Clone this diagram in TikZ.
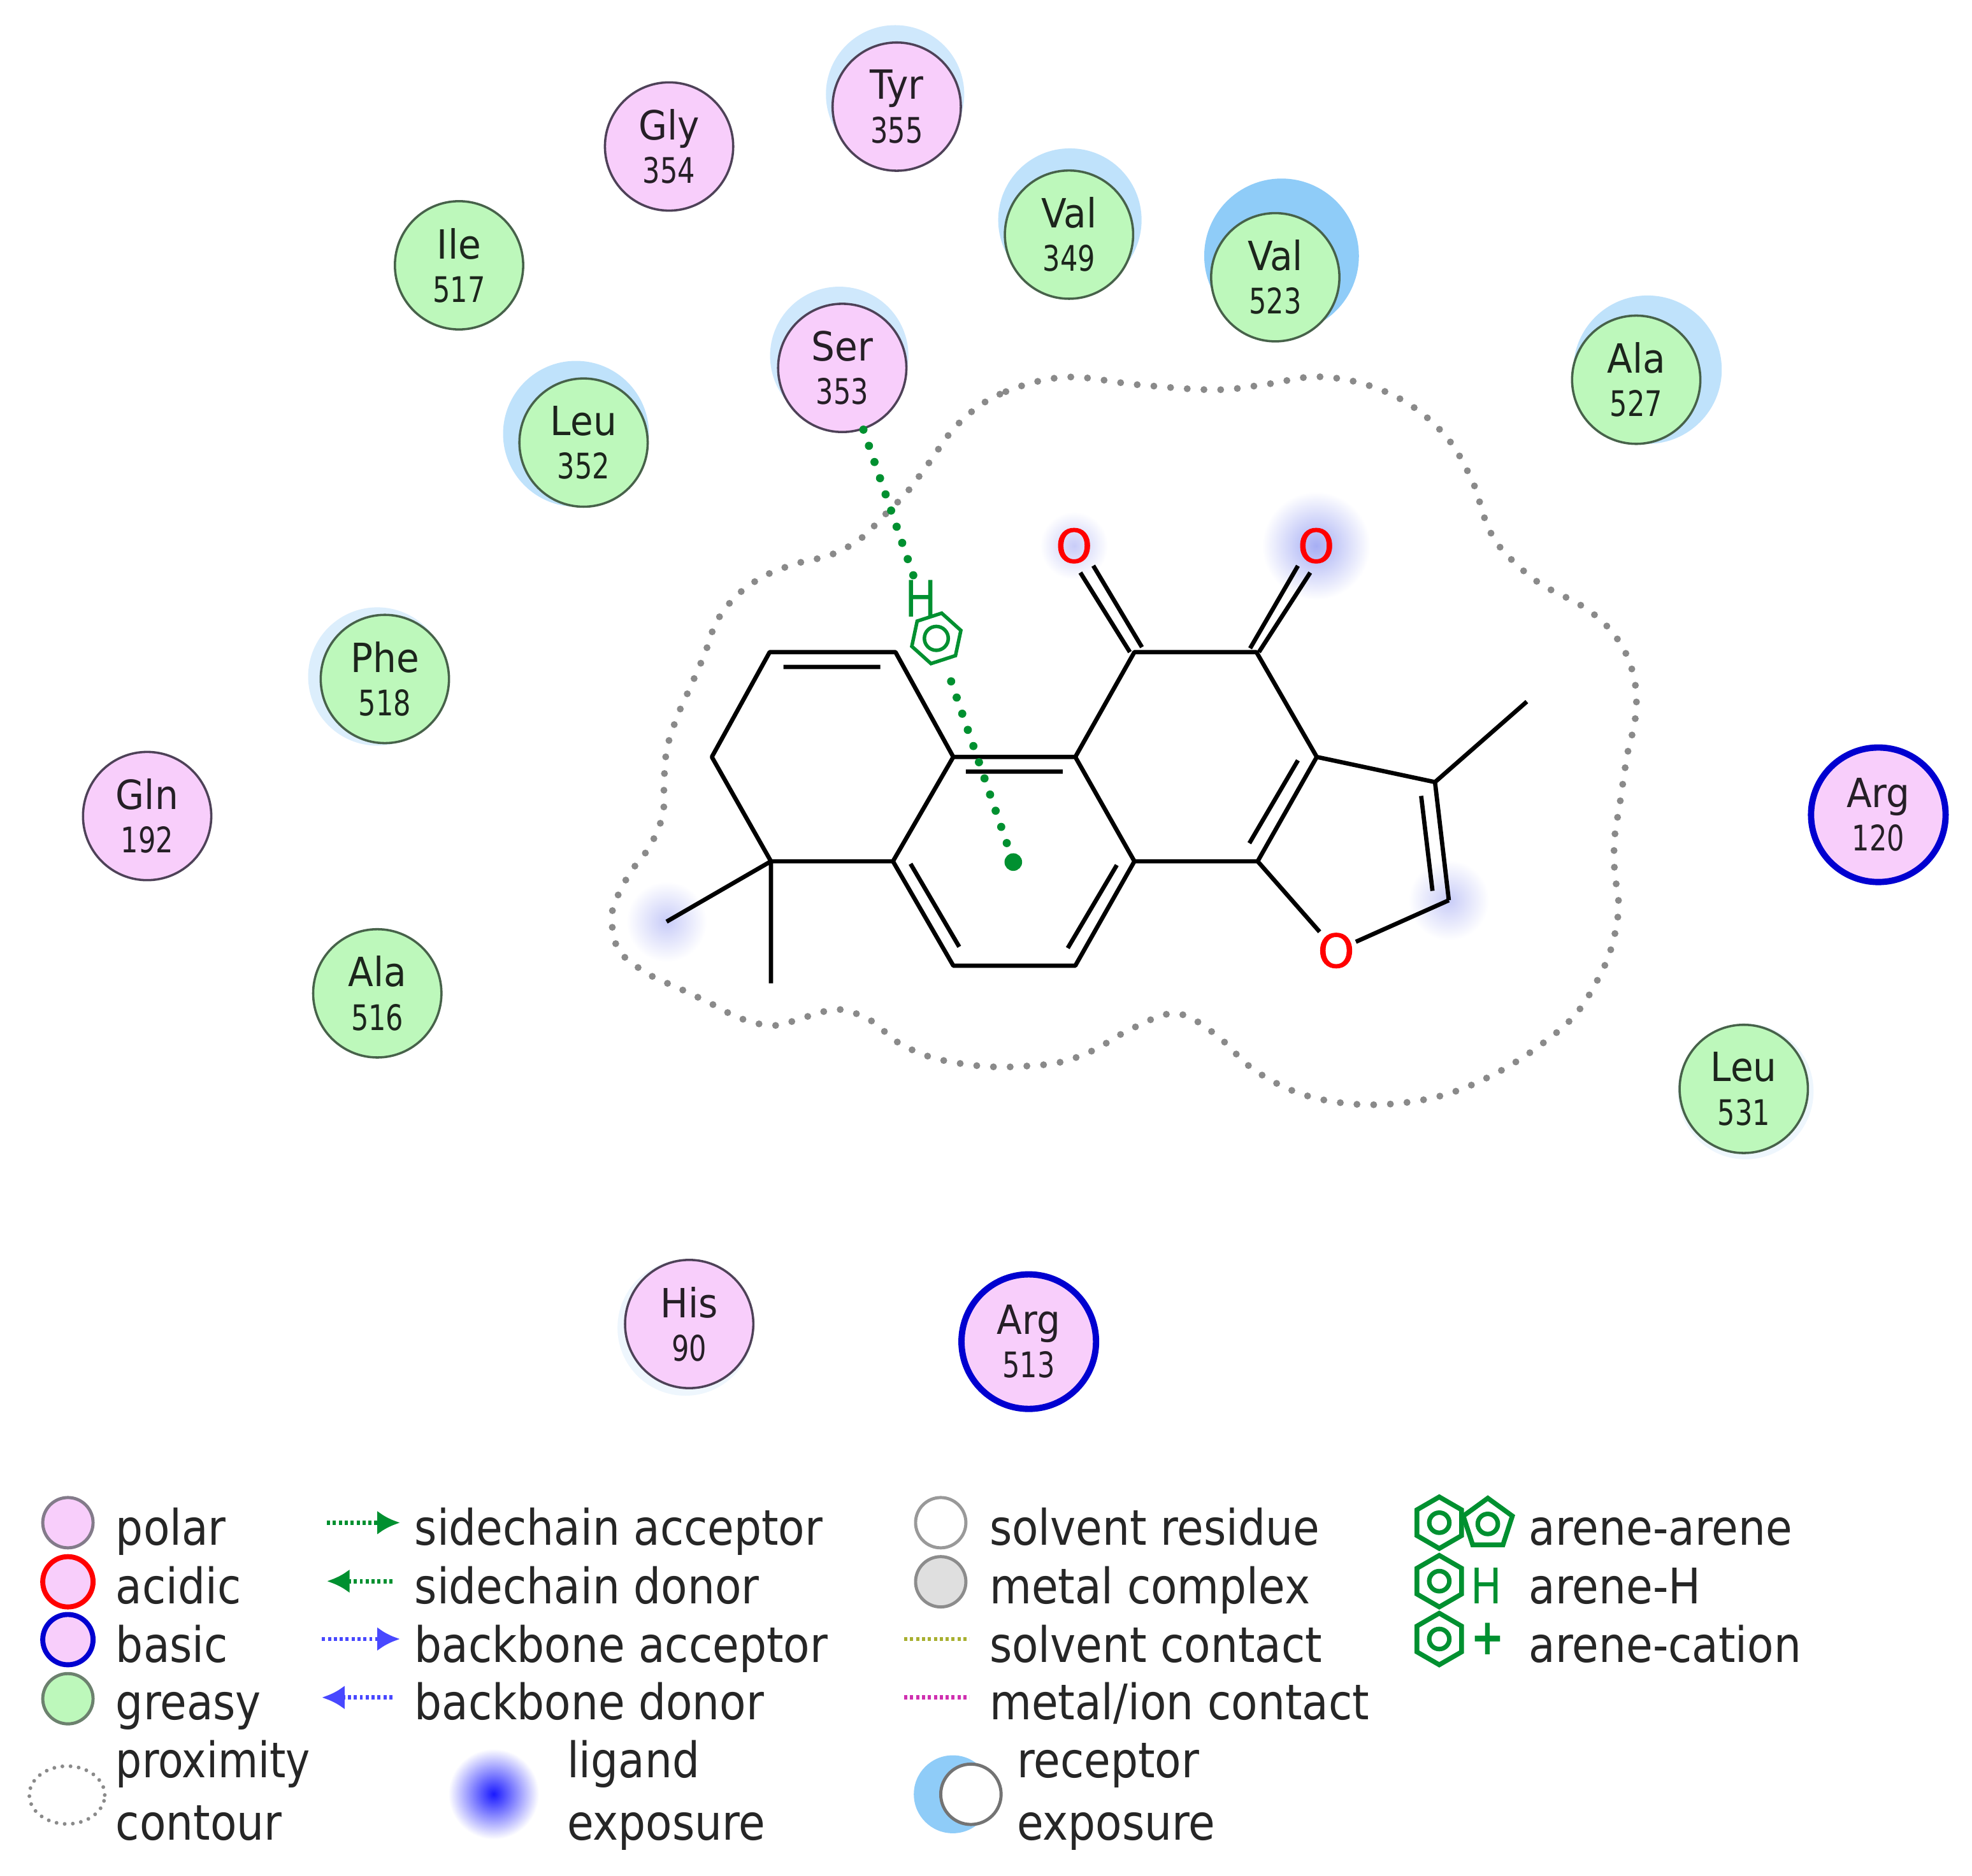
\documentclass[tikz,border=0pt]{standalone}
\usepackage{fontspec}
\setmainfont{DejaVu Sans}
\newfontfamily\resf[FakeStretch=0.92]{DejaVu Sans}
\newfontfamily\numf[FakeStretch=0.78]{DejaVu Sans}
\newfontfamily\legf[FakeStretch=0.88]{DejaVu Sans}
\newfontfamily\legn[FakeStretch=0.84]{DejaVu Sans}
\newfontfamily\legb[FakeStretch=0.8]{DejaVu Sans Bold}
\newfontfamily\atomf[FakeBold=1.2]{DejaVu Sans}
\usetikzlibrary{arrows.meta,shapes.geometric}
\definecolor{polarfill}{HTML}{F8CEFB}
\definecolor{greasyfill}{HTML}{BDF8BB}
\definecolor{polaredge}{HTML}{4E4258}
\definecolor{greasyedge}{HTML}{47624A}
\definecolor{basicedge}{HTML}{0000D0}
\definecolor{contourgray}{HTML}{8A8A8A}
\definecolor{dgreen}{HTML}{009030}
\definecolor{bbblue}{HTML}{4848FF}
\definecolor{expA}{HTML}{CFE8FC}
\definecolor{expB}{HTML}{BFE2FB}
\definecolor{expC}{HTML}{8FCCF8}
\definecolor{expD}{HTML}{DCEEFC}
\definecolor{expE}{HTML}{EEF6FD}
\definecolor{glowA}{HTML}{A6AEF4}
\definecolor{glowB}{HTML}{C8CCF8}
\tikzset{
  polarres/.style={circle,draw=polaredge,fill=polarfill,line width=1.8pt,minimum size=102pt,inner sep=0pt,align=center,text=black!85!polarfill,font=\resf\fontsize{32}{34.5}\selectfont},
  greasyres/.style={polarres,draw=greasyedge,fill=greasyfill,text=black!85!greasyfill},
  basicres/.style={polarres,draw=basicedge,line width=5pt,minimum size=107pt},
  bond/.style={draw=black,line width=3.4pt},
  atomO/.style={text=red,inner sep=0pt,font=\atomf\fontsize{37}{37}\selectfont},
  hbonddots/.style={draw=dgreen,line width=6.5pt,line cap=round,dash pattern=on 0pt off 13.6pt},
  contourdots/.style={draw=contourgray,line width=5.5pt,line cap=round,dash pattern=on 0pt off 13.3pt},
  legtext/.style={anchor=base west,inner sep=0pt,text=black!85,font=\legf\fontsize{39}{39}\selectfont},
  legdot/.style={circle,minimum size=40pt,inner sep=0pt,line width=2.5pt},
  legarrow/.style={line width=3.5pt,dash pattern=on 2.5pt off 2.2pt},
  archex/.style={regular polygon,regular polygon sides=6,draw=dgreen,line width=3.8pt,minimum size=41pt,inner sep=0pt,rotate=30},
  arcpent/.style={regular polygon,regular polygon sides=5,draw=dgreen,line width=3.8pt,minimum size=41pt,inner sep=0pt},
  arcring/.style={circle,draw=dgreen,line width=3.6pt,minimum size=16pt,inner sep=0pt},
}
\newcommand{\resid}[6]{\node[#1] (#2) at (#3,#4) {#5\\{\numf\fontsize{28}{34.5}\selectfont #6}};}
\newcommand{\expo}[4]{\fill[#4] (#1,#2) circle (#3);}
\newcommand{\glow}[4]{\shade[inner color=#4,outer color=white] (#1,#2) circle (#3);}
\begin{document}
\begin{tikzpicture}[x=1pt,y=-1pt]
\useasboundingbox (0,0) rectangle (1568,1491.5);
\fill[white] (0,0) rectangle (1568,1491.5);
% receptor exposure
\expo{711.7}{75}{55pt}{expA}
\expo{850.7}{175}{57pt}{expB}
\expo{1019}{203.5}{61.5pt}{expC}
\expo{667.3}{283}{55pt}{expA}
\expo{458}{345}{58pt}{expB}
\expo{1310}{294}{59pt}{expB}
\expo{300}{538}{55pt}{expD}
\expo{545}{1056}{54pt}{expE}
\expo{1388}{868}{54pt}{expE}
% ligand exposure
\glow{1046.5}{434}{43pt}{glowA}
\glow{854}{434}{27pt}{glowB}
\glow{1152}{716}{32pt}{glowB}
\glow{530}{733}{32pt}{glowB}
% proximity contour
\draw[contourdots] plot[smooth cycle,tension=0.6] coordinates {
(846,300)(795,313.5)(762,337)(738,369)(721.5,391)(703,410)(683.5,429)(660,441.5)(634,448)(608.5,457.7)(586.5,473)(570,494)(560.7,519)(550,544)(539,568.6)(530.5,594.6)(528,620.6)(527,647.7)(516.7,673)(500.7,694.6)(488.8,718)(486.5,731)(488.3,745)(494,758.6)(516,775)(541,786.5)(565,798)(589,810)(615.5,815.6)(641.3,808.6)(667,802.8)(692.5,811.7)(713,828.4)(737.8,840)(763.6,845.8)(790.8,848.5)(818,847.7)(843.8,844.6)(870,835)(900,818)(935,806)(966.4,822.6)(996,850)(1031.8,869)(1071,877.6)(1111,877.6)(1151,870)(1188.7,854)(1222.3,833)(1253,806.5)(1274,772)(1283,747)(1287,720)(1283.8,693)(1283.8,666.4)(1288,639)(1294,599.7)(1300,573.4)(1300.6,547)(1293.4,521)(1278.4,498.7)(1257,481.4)(1222,462.4)(1192.6,435)(1180,411)(1172,385.6)(1152.5,350.5)(1122.8,323)(1086.6,306)(1046.5,299.6)(1006.4,305.7)(966,310)(905,306)};
% ligand atoms
\coordinate (a1) at (612,518.6); \coordinate (a2) at (712,518.6); \coordinate (a3) at (758,602);
\coordinate (a4) at (710,685); \coordinate (a5) at (613,685); \coordinate (a6) at (566,602);
\coordinate (c1) at (855,602); \coordinate (c2) at (902,685); \coordinate (c3) at (855,768); \coordinate (c4) at (758,768);
\coordinate (d1) at (902,518.6); \coordinate (d2) at (999,518.6); \coordinate (d3) at (1047,602); \coordinate (d4) at (1000,685);
\coordinate (e1) at (1141,622); \coordinate (e2) at (1152,716);
\coordinate (m1) at (1214,558); \coordinate (m2) at (530,733); \coordinate (m3) at (613,782);
\coordinate (i1a) at (623,530.4); \coordinate (i1b) at (700,530.4);
\coordinate (i2a) at (768,613.6); \coordinate (i2b) at (845,613.6);
\coordinate (i3a) at (724,687); \coordinate (i3b) at (762.7,753);
\coordinate (i4a) at (888,688); \coordinate (i4b) at (849,754);
\coordinate (i5a) at (1032,604.7); \coordinate (i5b) at (993.4,670.6);
\coordinate (i6a) at (1130,633); \coordinate (i6b) at (1139,708.5);
\coordinate (o1a) at (859,455.4); \coordinate (o1b) at (898.4,518.6); \coordinate (o1c) at (869.3,449.9); \coordinate (o1d) at (908,514.7);
\coordinate (o2a) at (1032,450); \coordinate (o2b) at (994,515.6); \coordinate (o2c) at (1041.8,455.4); \coordinate (o2d) at (1001,518.6);
\draw[bond,line join=round] (a5)--(a6)--(a1)--(a2)--(a3)--(a4)--(a5);
\draw[bond,line join=round] (a3)--(c1)--(c2)--(c3)--(c4)--(a4);
\draw[bond,line join=round] (c1)--(d1)--(d2)--(d3)--(d4)--(c2);
\draw[bond,line join=round] (d3)--(e1)--(e2);
\draw[bond] (e1)--(m1) (a5)--(m2) (a5)--(m3);
\draw[bond] (i1a)--(i1b) (i2a)--(i2b) (i3a)--(i3b) (i4a)--(i4b) (i5a)--(i5b) (i6a)--(i6b);
\draw[bond] (o1a)--(o1b) (o1c)--(o1d) (o2a)--(o2b) (o2c)--(o2d);
\node[atomO] (O1) at (854,434) {O};
\node[atomO] (O2) at (1046.5,434) {O};
\node[atomO] (O3) at (1062.4,756) {O};
\draw[bond,shorten >=1pt] (d4)--(O3);
\draw[bond,shorten >=1pt] (e2)--(O3);
% residues
\resid{polarres}{tyr355}{713}{84.8}{Tyr}{355}
\resid{polarres}{gly354}{532}{116.5}{Gly}{354}
\resid{greasyres}{ile517}{365}{211}{Ile}{517}
\resid{greasyres}{val349}{850}{186.6}{Val}{349}
\resid{greasyres}{val523}{1014}{220.5}{Val}{523}
\resid{polarres}{ser353}{669.7}{292.6}{Ser}{353}
\resid{greasyres}{leu352}{464}{352}{Leu}{352}
\resid{greasyres}{ala527}{1301}{302}{Ala}{527}
\resid{greasyres}{phe518}{306}{540}{Phe}{518}
\resid{polarres}{gln192}{117}{649}{Gln}{192}
\resid{greasyres}{ala516}{300}{790}{Ala}{516}
\resid{basicres}{arg120}{1493.5}{648}{Arg}{120}
\resid{greasyres}{leu531}{1386.5}{866}{Leu}{531}
\resid{polarres}{his90}{548}{1053}{His}{90}
\resid{basicres}{arg513}{818}{1067}{Arg}{513}
% arene-H interaction
\node[text=dgreen,inner sep=2pt,font=\legn\fontsize{40}{40}\selectfont] (ligH) at (732.5,476) {H};
\node[archex,line width=2.8pt,minimum size=41pt,rotate=-12] (hexH) at (744.5,507.7) {};
\node[arcring,line width=2.8pt,minimum size=19pt] (hexHin) at (744.5,507.7) {};
\node[circle,fill=dgreen,minimum size=14pt,inner sep=0pt] (ringdot) at (805.7,685.6) {};
\draw[hbonddots] (ser353) -- (ligH);
\draw[hbonddots,shorten <=17pt] (hexH) -- (ringdot);
% legend column 1
\node[legdot,draw=polaredge!70!white,fill=polarfill] (lgpolar) at (54,1211) {};
\node[legdot,draw=red,fill=polarfill,line width=4pt] (lgacid) at (54,1258) {};
\node[legdot,draw=basicedge,fill=polarfill,line width=4pt] (lgbasic) at (54,1304) {};
\node[legdot,draw=greasyedge!80!white,fill=greasyfill] (lggreasy) at (54,1351) {};
\node[legtext] (t1) at (92,1228.8) {polar};
\node[legtext] (t2) at (92,1275.4) {acidic};
\node[legtext] (t3) at (92,1322) {basic};
\node[legtext] (t4) at (92,1367.8) {greasy};
\node[legtext,font=\legn\fontsize{39}{39}\selectfont] (t5) at (92,1413.8) {proximity};
\node[legtext] (t6) at (92,1463.6) {contour};
\draw[draw=contourgray,line width=3pt,line cap=round,dash pattern=on 0pt off 6.5pt] (53.3,1427.6) ellipse (30pt and 23pt);
% legend column 2
\coordinate (ar1a) at (260,1211); \coordinate (ar1b) at (318,1211);
\coordinate (ar2a) at (312,1257.5); \coordinate (ar2b) at (260,1257.5);
\coordinate (ar3a) at (256,1303.5); \coordinate (ar3b) at (318,1303.5);
\coordinate (ar4a) at (312,1350); \coordinate (ar4b) at (256,1350);
\draw[legarrow,draw=dgreen,-{Latex[length=18pt,width=19pt]}] (ar1a)--(ar1b);
\draw[legarrow,draw=dgreen,-{Latex[length=18pt,width=19pt]}] (ar2a)--(ar2b);
\draw[legarrow,draw=bbblue,-{Latex[length=18pt,width=19pt]}] (ar3a)--(ar3b);
\draw[legarrow,draw=bbblue,-{Latex[length=18pt,width=19pt]}] (ar4a)--(ar4b);
\node[legtext] (t7) at (329.5,1228.8) {sidechain acceptor};
\node[legtext] (t8) at (329.5,1275.4) {sidechain donor};
\node[legtext] (t9) at (329.5,1322) {backbone acceptor};
\node[legtext] (t10) at (329.5,1367.8) {backbone donor};
\shade[inner color=blue!90!white,outer color=white] (392.5,1426.8) circle (36pt);
\node[legtext] (t11) at (450.7,1413.8) {ligand};
\node[legtext] (t12) at (450.7,1463.6) {exposure};
% legend column 3
\node[legdot,draw=gray!80,fill=white] (lgsolv) at (748,1211) {};
\node[legdot,draw=gray!90,fill=gray!25] (lgmetal) at (748,1258) {};
\coordinate (sc1) at (719,1303.5); \coordinate (sc2) at (770.7,1303.5);
\coordinate (mc1) at (719,1350); \coordinate (mc2) at (770.7,1350);
\draw[line width=3.5pt,dash pattern=on 2.5pt off 2.2pt,draw={rgb,255:red,168;green,176;blue,48}] (sc1)--(sc2);
\draw[line width=3.5pt,dash pattern=on 2.5pt off 2.2pt,draw={rgb,255:red,208;green,48;blue,176}] (mc1)--(mc2);
\node[legtext] (t13) at (786.7,1228.8) {solvent residue};
\node[legtext] (t14) at (786.7,1275.4) {metal complex};
\node[legtext] (t15) at (786.7,1322) {solvent contact};
\node[legtext] (t16) at (786.7,1367.8) {metal/ion contact};
\fill[expC] (757.6,1427) circle (31pt);
\node[circle,draw=gray!90!black,fill=white,line width=2.5pt,minimum size=48pt,inner sep=0pt] (lgrec) at (772,1427) {};
\node[legtext] (t17) at (808.5,1413.8) {receptor};
\node[legtext] (t18) at (808.5,1463.6) {exposure};
% legend column 4
\node[archex] (hx1) at (1144.4,1211) {};
\node[arcring] (hx1i) at (1144.4,1211) {};
\node[arcpent] (pt1) at (1183,1212) {};
\node[arcring] (pt1i) at (1183,1212) {};
\node[archex] (hx2) at (1144.4,1257.5) {};
\node[arcring] (hx2i) at (1144.4,1257.5) {};
\node[anchor=base,inner sep=0pt,text=dgreen,font=\legn\fontsize{39}{39}\selectfont] (lgH) at (1182,1275.4) {H};
\node[archex] (hx3) at (1144.4,1303.5) {};
\node[arcring] (hx3i) at (1144.4,1303.5) {};
\node[inner sep=0pt,text=dgreen,font=\legb\fontsize{40}{40}\selectfont] (lgP) at (1183,1303.5) {+};
\node[legtext] (t19) at (1215.6,1228.8) {arene-arene};
\node[legtext] (t20) at (1215.6,1275.4) {arene-H};
\node[legtext] (t21) at (1215.6,1322) {arene-cation};
\end{tikzpicture}
\end{document}
